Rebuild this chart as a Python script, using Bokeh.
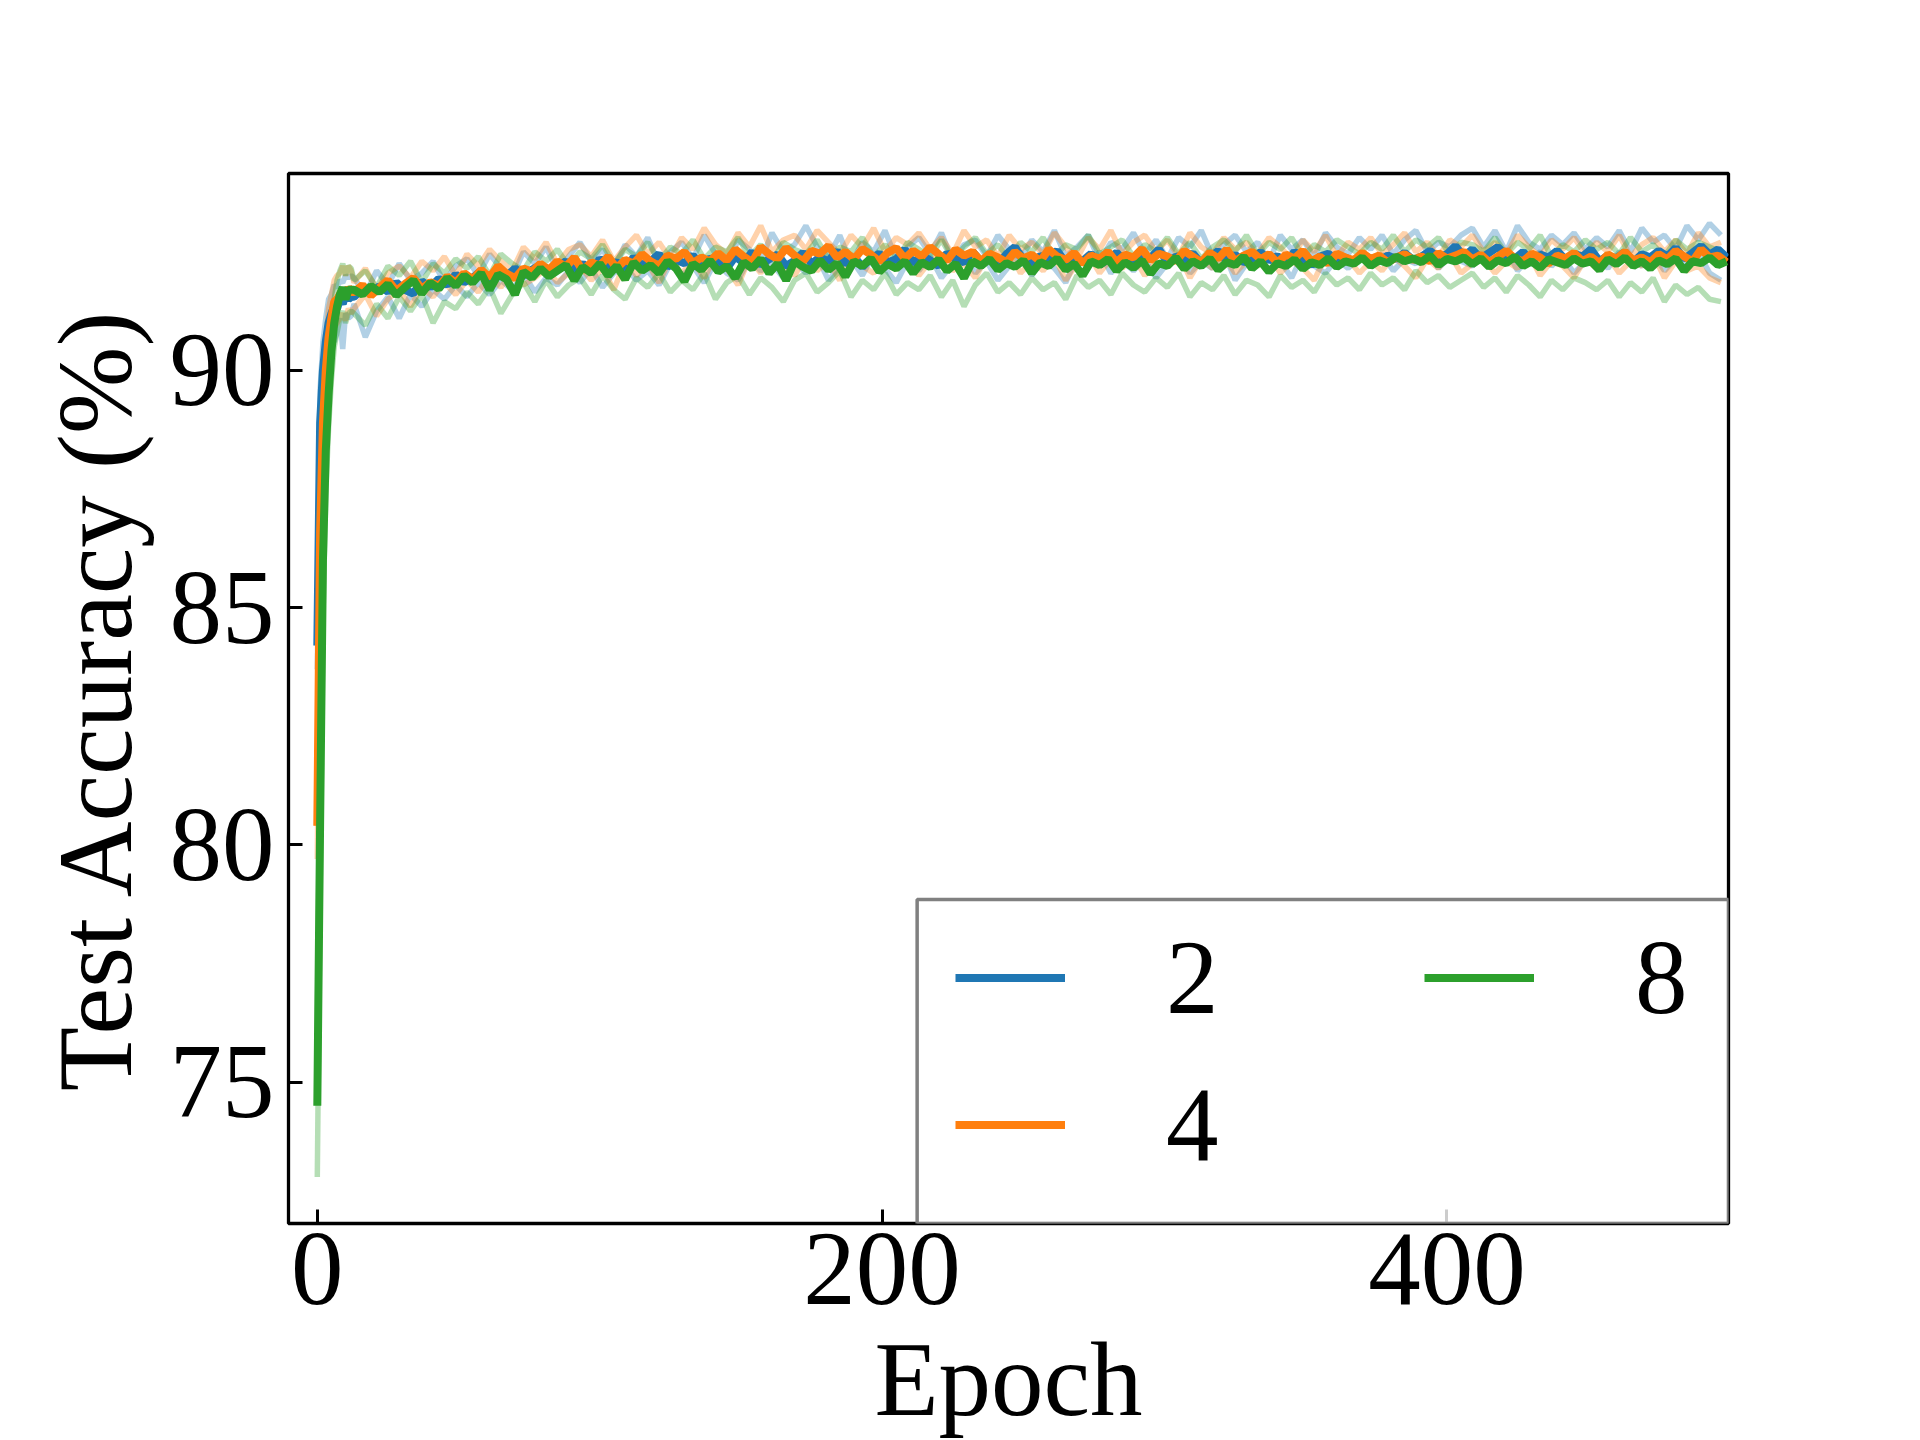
from bokeh.plotting import figure
from bokeh.models import Range1d, FixedTicker, Legend, LegendItem, BoxAnnotation
from bokeh.embed import file_html
from bokeh.resources import INLINE

# ---------------- data ----------------
SERIES = ["2", "4", "8"]
COLORS = ["#1f77b4", "#ff7f0e", "#2ca02c"]
X_TICKS = [0, 200, 400]
Y_TICKS = [75, 80, 85, 90]

# epochs where the mean curves are sampled
X_MEAN = list(range(0, 13)) + list(range(13, 500, 3))
# epochs where the individual (faint) runs are sampled
X_RUN = list(range(0, 13)) + list(range(13, 500, 4))

MEAN_2 = [
    84.2, 88.9, 90.0, 90.6, 91.0, 91.2, 91.35, 91.3, 91.5, 91.4, 91.6, 91.5, 91.55,
    91.55, 91.72, 91.60, 91.78, 91.66, 91.85, 91.70, 91.62, 91.88, 91.75, 91.93,
    91.80, 92.02, 91.86, 91.95, 92.10, 91.90, 92.05, 91.98, 92.15, 92.00, 92.12,
    92.22, 92.05, 92.18, 92.30, 92.10, 92.25, 92.08, 92.35, 92.20, 92.28, 92.15,
    92.38, 92.22, 92.30, 92.45, 92.18, 92.33, 92.26, 92.42, 92.20, 92.36, 92.29,
    92.15, 92.40, 92.27, 92.50, 92.22, 92.35, 92.44, 92.20, 92.31, 92.48, 92.25,
    92.38, 92.30, 92.52, 92.24, 92.40, 92.18, 92.36, 92.46, 92.28, 92.34, 92.55,
    92.26, 92.42, 92.32, 92.20, 92.47, 92.35, 92.28, 92.50, 92.30, 92.40, 92.22,
    92.45, 92.60, 92.33, 92.25, 92.41, 92.36, 92.52, 92.27, 92.38, 92.30, 92.46,
    92.22, 92.35, 92.48, 92.31, 92.26, 92.43, 92.37, 92.55, 92.29, 92.40, 92.33,
    92.47, 92.25, 92.38, 92.52, 92.30, 92.44, 92.28, 92.36, 92.49, 92.32, 92.41,
    92.27, 92.50, 92.35, 92.22, 92.40, 92.46, 92.31, 92.38, 92.28, 92.43, 92.36,
    92.30, 92.42, 92.35, 92.48, 92.33, 92.40, 92.52, 92.38, 92.45, 92.62, 92.40,
    92.55, 92.36, 92.48, 92.60, 92.42, 92.35, 92.50, 92.28, 92.44, 92.38, 92.52,
    92.33, 92.46, 92.40, 92.55, 92.30, 92.42, 92.36, 92.50, 92.28, 92.45, 92.38,
    92.52, 92.40, 92.58, 92.35, 92.48, 92.62, 92.44, 92.55, 92.38,
]
MEAN_4 = [
    80.4, 86.6, 88.9, 90.0, 90.7, 91.1, 91.45, 91.5, 91.6, 91.7, 91.55, 91.75, 91.65,
    91.65, 91.80, 91.58, 91.74, 91.90, 91.68, 91.82, 91.95, 91.72, 91.86, 91.78,
    91.98, 91.85, 92.05, 91.92, 92.12, 91.96, 92.20, 92.04, 91.94, 92.15, 92.08,
    92.25, 92.12, 92.30, 92.18, 92.38, 92.10, 92.28, 92.20, 92.40, 92.15, 92.33,
    92.25, 92.45, 92.30, 92.20, 92.42, 92.35, 92.50, 92.26, 92.38, 92.30, 92.47,
    92.32, 92.55, 92.40, 92.28, 92.60, 92.45, 92.35, 92.58, 92.42, 92.30, 92.52,
    92.46, 92.62, 92.38, 92.50, 92.34, 92.56, 92.44, 92.30, 92.48, 92.58, 92.36,
    92.52, 92.40, 92.60, 92.45, 92.32, 92.55, 92.42, 92.50, 92.30, 92.46, 92.38,
    92.28, 92.50, 92.36, 92.44, 92.30, 92.55, 92.40, 92.33, 92.48, 92.25, 92.42,
    92.35, 92.50, 92.28, 92.44, 92.38, 92.56, 92.32, 92.46, 92.40, 92.30, 92.52,
    92.40, 92.28, 92.48, 92.36, 92.55, 92.30, 92.42, 92.50, 92.34, 92.45, 92.27,
    92.44, 92.36, 92.52, 92.30, 92.40, 92.25, 92.46, 92.38, 92.32, 92.48, 92.35,
    92.42, 92.28, 92.38, 92.45, 92.33, 92.40, 92.30, 92.47, 92.36, 92.42, 92.50,
    92.34, 92.44, 92.28, 92.40, 92.52, 92.36, 92.30, 92.46, 92.38, 92.25, 92.42,
    92.36, 92.48, 92.30, 92.40, 92.26, 92.44, 92.35, 92.50, 92.32, 92.38, 92.28,
    92.45, 92.34, 92.52, 92.40, 92.30, 92.55, 92.38, 92.42, 92.28,
]
MEAN_8 = [
    74.5, 80.5, 86.0, 88.3, 89.5, 90.4, 91.0, 91.35, 91.6, 91.75, 91.5, 91.7, 91.7,
    91.70, 91.60, 91.78, 91.65, 91.82, 91.58, 91.75, 91.90, 91.62, 91.85, 91.72,
    91.95, 91.78, 92.00, 91.85, 92.05, 91.70, 92.02, 91.92, 91.60, 92.08, 91.95,
    92.15, 91.98, 92.10, 92.22, 91.90, 92.18, 92.05, 92.25, 92.00, 92.20, 91.92,
    92.28, 92.10, 92.22, 92.05, 92.30, 92.15, 91.88, 92.25, 92.12, 92.32, 92.08,
    92.20, 91.95, 92.28, 92.15, 92.35, 92.05, 92.25, 91.90, 92.30, 92.18, 92.10,
    92.32, 92.12, 92.26, 91.98, 92.30, 92.20, 92.36, 92.08, 92.24, 92.15, 92.30,
    92.05, 92.28, 92.18, 92.34, 92.10, 92.25, 91.95, 92.30, 92.20, 92.35, 92.12,
    92.26, 92.18, 92.32, 92.05, 92.28, 92.20, 92.36, 92.12, 92.25, 92.00, 92.30,
    92.22, 92.35, 92.10, 92.28, 92.16, 92.32, 92.04, 92.26, 92.20, 92.38, 92.14,
    92.30, 92.20, 92.36, 92.12, 92.28, 92.22, 92.40, 92.15, 92.30, 92.08, 92.26,
    92.20, 92.34, 92.14, 92.28, 92.22, 92.36, 92.18, 92.30, 92.25, 92.38, 92.20,
    92.32, 92.26, 92.40, 92.30, 92.36, 92.28, 92.42, 92.22, 92.35, 92.30, 92.38,
    92.24, 92.36, 92.18, 92.32, 92.26, 92.40, 92.20, 92.30, 92.16, 92.34, 92.28,
    92.22, 92.36, 92.25, 92.30, 92.12, 92.34, 92.24, 92.38, 92.20, 92.30, 92.15,
    92.32, 92.24, 92.36, 92.10, 92.30, 92.26, 92.38, 92.22, 92.30,
]

# two individual runs per setting (faint lines)
RUN_2A = [
    84.7, 89.6, 90.6, 91.1, 91.5, 91.6, 91.8, 91.75, 91.9, 91.85, 92.0, 91.95, 92.0,
    91.95, 91.60, 92.10, 91.80, 92.25, 91.90, 92.05, 92.30, 91.85, 92.20,
    92.35, 92.00, 92.45, 92.15, 91.95, 92.50, 92.25, 92.60, 92.10, 92.40,
    92.70, 92.30, 92.55, 92.15, 92.65, 92.40, 92.80, 92.25, 92.50, 92.70,
    92.35, 92.85, 92.45, 92.20, 92.75, 92.55, 92.30, 92.90, 92.50, 92.65,
    93.05, 92.60, 92.40, 92.85, 92.25, 92.70, 92.50, 92.95, 92.35, 92.60,
    92.80, 92.45, 92.90, 92.30, 92.65, 92.75, 92.40, 92.85, 92.55, 92.35,
    92.75, 92.50, 92.95, 92.40, 92.60, 92.85, 92.30, 92.70, 92.55, 92.90,
    92.45, 92.75, 92.35, 92.80, 92.60, 92.95, 92.40, 92.65, 92.85, 92.50,
    92.70, 92.30, 92.85, 92.55, 92.75, 92.40, 92.90, 92.60, 92.45, 92.80,
    92.55, 92.85, 92.45, 92.75, 92.95, 92.50, 92.70, 92.60, 92.85, 93.00,
    92.60, 92.95, 92.50, 93.05, 92.70, 92.55, 92.85, 92.65, 92.90, 92.55,
    92.80, 92.60, 92.95, 92.50, 93.00, 92.70, 92.85, 92.55, 93.05, 92.75,
    93.10, 92.85,
]
RUN_2B = [
    83.7, 88.2, 89.3, 90.1, 90.5, 90.8, 90.6, 90.85, 91.1, 90.45, 91.2, 91.1, 91.15,
    91.40, 90.70, 91.25, 91.55, 91.10, 91.60, 91.35, 91.70, 91.50, 91.80,
    91.55, 91.85, 91.60, 91.90, 91.70, 92.05, 91.65, 91.95, 91.80, 92.10,
    91.85, 92.15, 91.75, 92.05, 92.20, 91.90, 92.10, 91.80, 92.25, 92.00,
    92.20, 91.85, 92.30, 92.05, 91.90, 92.35, 92.10, 92.25, 91.95, 92.30,
    92.05, 92.40, 91.90, 92.20, 92.35, 92.00, 92.45, 92.15, 91.85, 92.30,
    92.10, 92.40, 91.95, 92.25, 92.45, 92.05, 92.30, 91.90, 92.20, 92.50,
    92.00, 92.35, 92.15, 91.85, 92.40, 92.20, 92.50, 92.05, 92.30, 92.10,
    92.35, 91.95, 92.25, 92.45, 92.05, 92.30, 92.15, 92.50, 91.90, 92.25,
    92.40, 92.10, 92.30, 91.95, 92.45, 92.20, 92.05, 92.35, 92.15, 92.40,
    92.20, 92.45, 92.10, 92.35, 92.25, 92.50, 92.15, 92.40, 92.30, 92.20,
    92.45, 92.25, 92.55, 92.10, 92.35, 92.50, 92.20, 92.40, 92.05, 92.30,
    92.40, 92.15, 92.50, 92.30, 92.20, 92.45, 92.10, 92.35, 92.25, 92.50,
    92.05, 91.90,
]
RUN_4A = [
    81.1, 87.5, 89.6, 90.6, 91.3, 91.6, 91.9, 92.0, 92.05, 92.2, 92.0, 92.2, 92.1,
    91.85, 92.15, 91.70, 92.05, 92.20, 91.95, 92.30, 92.10, 92.40, 92.00,
    92.45, 92.20, 92.55, 92.30, 92.10, 92.60, 92.35, 92.70, 92.25, 92.55,
    92.65, 92.40, 92.75, 92.30, 92.60, 92.85, 92.45, 92.70, 92.35, 92.80,
    92.55, 93.00, 92.65, 92.45, 92.90, 92.60, 93.05, 92.50, 92.75, 92.85,
    92.55, 92.95, 92.70, 92.45, 92.85, 92.60, 93.00, 92.50, 92.80, 92.65,
    92.90, 92.55, 92.80, 92.45, 92.95, 92.60, 92.75, 92.40, 92.85, 92.55,
    92.70, 92.45, 92.90, 92.60, 92.35, 92.80, 92.55, 92.95, 92.45, 92.70,
    92.85, 92.50, 92.75, 92.40, 92.90, 92.60, 92.45, 92.80, 92.55, 92.70,
    92.45, 92.80, 92.60, 92.35, 92.75, 92.50, 92.85, 92.40, 92.70, 92.55,
    92.80, 92.45, 92.65, 92.90, 92.50, 92.70, 92.40, 92.75, 92.60, 92.85,
    92.50, 92.70, 92.45, 92.85, 92.60, 92.40, 92.75, 92.55, 92.80, 92.45,
    92.70, 92.50, 92.85, 92.40, 92.65, 92.80, 92.50, 92.75, 92.45, 92.90,
    92.60, 92.70,
]
RUN_4B = [
    79.7, 85.7, 88.2, 89.4, 90.1, 90.6, 90.9, 91.0, 91.1, 91.2, 91.05, 91.3, 91.2,
    91.30, 91.60, 91.15, 91.50, 91.70, 91.35, 91.75, 91.55, 91.85, 91.60,
    91.90, 91.65, 92.00, 91.75, 92.10, 91.80, 91.95, 92.15, 91.85, 92.05,
    92.20, 91.90, 92.15, 91.70, 92.30, 92.00, 92.25, 91.85, 92.35, 92.05,
    92.30, 91.95, 92.40, 92.15, 91.80, 92.35, 92.05, 92.45, 92.20, 92.00,
    92.40, 92.10, 92.30, 91.90, 92.45, 92.20, 92.05, 92.40, 92.15, 92.35,
    92.00, 92.30, 92.45, 92.10, 92.25, 91.95, 92.40, 92.20, 92.50, 92.05,
    92.30, 92.10, 92.40, 91.90, 92.25, 92.45, 92.05, 92.35, 92.15, 92.40,
    92.00, 92.30, 92.20, 92.45, 91.95, 92.35, 92.15, 92.40, 92.05, 92.30,
    92.20, 92.45, 92.05, 92.30, 92.15, 91.90, 92.40, 92.20, 92.35, 92.05,
    92.30, 92.10, 92.40, 92.20, 91.95, 92.35, 92.15, 92.45, 92.05, 92.25,
    92.35, 92.05, 92.30, 92.15, 92.45, 92.00, 92.30, 92.20, 91.95, 92.35,
    92.15, 92.40, 92.05, 92.30, 92.20, 92.45, 91.95, 92.30, 92.10, 92.20,
    91.95, 91.85,
]
RUN_8A = [
    76.0, 82.0, 87.2, 89.2, 90.2, 91.0, 91.5, 91.9, 92.1, 92.25, 92.0, 92.2, 92.15,
    91.90, 92.10, 91.75, 92.20, 92.00, 92.30, 91.85, 92.25, 92.05, 92.35,
    92.15, 92.40, 92.00, 92.45, 92.25, 92.10, 92.50, 92.30, 92.55, 92.20,
    92.50, 92.35, 92.65, 92.25, 92.55, 92.40, 92.70, 92.30, 92.60, 92.45,
    92.75, 92.35, 92.60, 92.50, 92.80, 92.40, 92.65, 92.30, 92.70, 92.55,
    92.45, 92.75, 92.35, 92.60, 92.50, 92.80, 92.40, 92.65, 92.30, 92.70,
    92.55, 92.40, 92.75, 92.35, 92.60, 92.80, 92.45, 92.65, 92.35, 92.70,
    92.50, 92.80, 92.40, 92.65, 92.55, 92.85, 92.45, 92.60, 92.75, 92.40,
    92.65, 92.50, 92.80, 92.45, 92.70, 92.35, 92.60, 92.75, 92.50, 92.85,
    92.45, 92.70, 92.55, 92.80, 92.40, 92.65, 92.50, 92.75, 92.60, 92.45,
    92.70, 92.55, 92.85, 92.50, 92.75, 92.60, 92.80, 92.45, 92.70, 92.65,
    92.50, 92.80, 92.45, 92.70, 92.55, 92.85, 92.40, 92.65, 92.50, 92.75,
    92.55, 92.70, 92.45, 92.80, 92.50, 92.65, 92.40, 92.75, 92.55, 92.70,
    92.60, 92.50,
]
RUN_8B = [
    73.0, 79.0, 84.8, 87.4, 88.8, 89.8, 90.5, 90.8, 91.1, 91.25, 91.0, 91.2, 91.25,
    91.20, 90.95, 91.40, 91.10, 91.55, 91.25, 91.60, 91.00, 91.45, 91.30,
    91.65, 91.40, 91.75, 91.20, 91.60, 91.85, 91.45, 91.90, 91.55, 91.80,
    91.95, 91.60, 92.00, 91.70, 91.50, 91.95, 91.75, 92.05, 91.65, 91.90,
    91.70, 92.05, 91.50, 91.85, 92.00, 91.60, 91.95, 91.75, 91.45, 91.90,
    92.05, 91.65, 91.85, 92.10, 91.55, 91.90, 91.70, 92.05, 91.60, 91.85,
    91.70, 92.00, 91.55, 91.90, 91.35, 91.80, 92.05, 91.65, 91.85, 91.60,
    91.95, 91.70, 91.85, 91.50, 92.00, 91.75, 91.90, 91.60, 92.05, 91.80,
    91.65, 91.95, 91.75, 92.05, 91.55, 91.85, 91.70, 92.00, 91.60, 91.90,
    91.80, 91.55, 92.00, 91.75, 91.90, 91.65, 92.05, 91.80, 91.95, 91.70,
    92.05, 91.80, 91.95, 91.70, 92.10, 91.85, 92.00, 91.75, 91.90, 92.05,
    91.75, 91.95, 91.65, 92.00, 91.80, 91.55, 91.90, 91.70, 91.95, 91.85,
    91.70, 91.90, 91.55, 91.85, 91.65, 91.95, 91.45, 91.80, 91.60, 91.75,
    91.50, 91.45,
]

MEANS = [MEAN_2, MEAN_4, MEAN_8]
RUNS = [[RUN_2A, RUN_2B], [RUN_4A, RUN_4B], [RUN_8A, RUN_8B]]

# ---------------- figure ----------------
FONT = "Liberation Serif"
FS = "105px"

p = figure(width=1920, height=1440, output_backend="svg", toolbar_location=None,
           x_range=Range1d(-10.2, 499.7), y_range=Range1d(72.02, 94.15),
           min_border_left=288, min_border_right=192,
           min_border_top=173, min_border_bottom=217,
           x_axis_label="Epoch", y_axis_label="Test Accuracy (%)")
p.background_fill_color = "white"
p.border_fill_color = "white"
p.grid.visible = False
p.outline_line_color = "black"
p.outline_line_width = 3.3

for ax in (p.xaxis[0], p.yaxis[0]):
    ax.axis_line_color = None
    ax.major_tick_in = 14
    ax.major_tick_out = 0
    ax.major_tick_line_width = 3
    ax.major_tick_line_color = "black"
    ax.minor_tick_line_color = None
    ax.major_label_text_font = FONT
    ax.major_label_text_font_size = FS
    ax.major_label_text_color = "black"
    ax.axis_label_text_font = FONT
    ax.axis_label_text_font_size = FS
    ax.axis_label_text_font_style = "normal"
    ax.axis_label_text_color = "black"
p.xaxis.ticker = FixedTicker(ticks=X_TICKS)
p.yaxis.ticker = FixedTicker(ticks=Y_TICKS)
p.xaxis.major_label_standoff = 10
p.yaxis.major_label_standoff = 14
p.xaxis.axis_label_standoff = 14
p.yaxis.axis_label_standoff = 13

# faint individual runs first
for runs, col in zip(RUNS, COLORS):
    for run in runs:
        n = min(len(X_RUN), len(run))
        p.line(X_RUN[:n], run[:n], line_color=col, line_width=5.5, line_alpha=0.35)

line_renderers = []
for mean, col in zip(MEANS, COLORS):
    n = min(len(X_MEAN), len(mean))
    r = p.line(X_MEAN[:n], mean[:n], line_color=col, line_width=8)
    line_renderers.append(r)

# legend frame (white, semi-transparent, grey edge)
p.add_layout(BoxAnnotation(left=212.4, top=78.85, fill_color="white",
                           fill_alpha=0.8, line_color="#808080", line_alpha=1.0,
                           line_width=3.5, level="annotation"))

legend = Legend(items=[LegendItem(label=s, renderers=[r])
                       for s, r in zip(SERIES, line_renderers)],
                orientation="vertical", ncols=2,
                location=(667, 36), margin=0, padding=10, spacing=22,
                glyph_width=110, glyph_height=125, label_height=125,
                label_width=236, label_standoff=101,
                label_text_font=FONT, label_text_font_size=FS,
                label_text_color="black",
                background_fill_alpha=0, border_line_color=None)
p.add_layout(legend, "center")

open("out.html", "w").write(file_html(p, INLINE))
